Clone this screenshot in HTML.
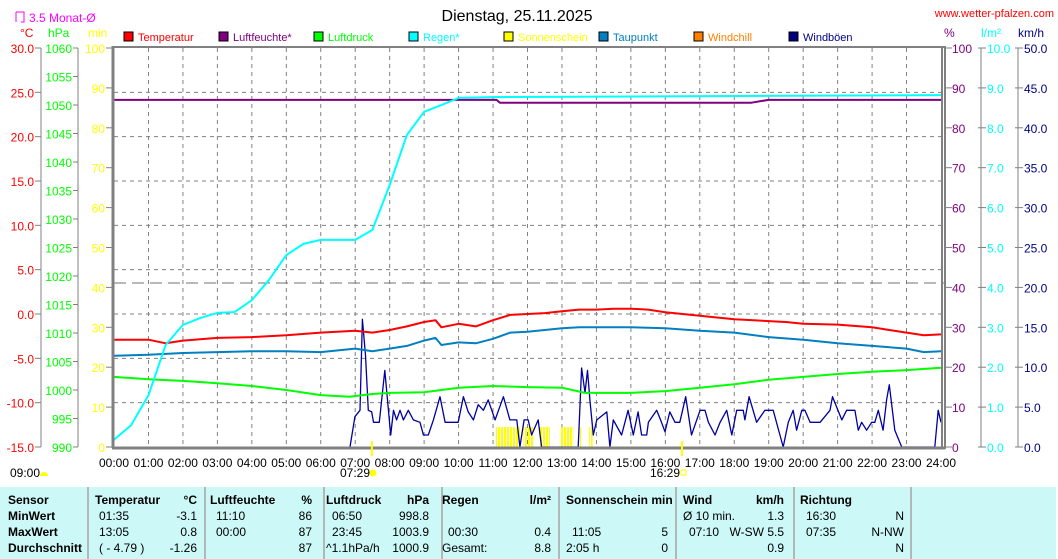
<!DOCTYPE html>
<html><head><meta charset="utf-8">
<style>
body{margin:0;width:1058px;height:559px;overflow:hidden;background:#fff;font-family:"Liberation Sans",sans-serif;}
#wrap{position:relative;width:1058px;height:559px;}
svg{position:absolute;left:0;top:0;}
svg text{font-family:"Liberation Sans",sans-serif;font-size:12px;}
#tbl{position:absolute;left:0;top:487px;width:1056px;height:72px;background:#ccf8f8;font-size:12px;color:#000;}
#tbl span{position:absolute;white-space:nowrap;}
#tbl .b{font-weight:bold;}
#tbl .sep{position:absolute;top:0;width:2px;height:72px;background:#b0b8b8;}
</style></head><body>
<div id="wrap">
<svg id="chart" width="1058" height="487"></svg>
<div id="tbl">
<div class="sep" style="left:87px"></div><div class="sep" style="left:204px"></div><div class="sep" style="left:323px"></div><div class="sep" style="left:441px"></div><div class="sep" style="left:558px"></div><div class="sep" style="left:675px"></div><div class="sep" style="left:793px"></div><div class="sep" style="left:910px"></div>
<span class="b" style="left:8px;top:6px">Sensor</span>
<span class="b" style="left:8px;top:22px">MinWert</span>
<span class="b" style="left:8px;top:38px">MaxWert</span>
<span class="b" style="left:8px;top:54px">Durchschnitt</span>
<span class="b" style="left:95px;top:6px">Temperatur</span><span class="b" style="right:859px;top:6px">°C</span>
<span style="left:99px;top:22px">01:35</span><span style="right:859px;top:22px">-3.1</span>
<span style="left:99px;top:38px">13:05</span><span style="right:859px;top:38px">0.8</span>
<span style="left:99px;top:54px">( - 4.79 )</span><span style="right:859px;top:54px">-1.26</span>
<span class="b" style="left:210px;top:6px">Luftfeuchte</span><span class="b" style="right:744px;top:6px">%</span>
<span style="left:216px;top:22px">11:10</span><span style="right:744px;top:22px">86</span>
<span style="left:216px;top:38px">00:00</span><span style="right:744px;top:38px">87</span>
<span style="right:744px;top:54px">87</span>
<span class="b" style="left:326px;top:6px">Luftdruck</span><span class="b" style="right:627px;top:6px">hPa</span>
<span style="left:332px;top:22px">06:50</span><span style="right:627px;top:22px">998.8</span>
<span style="left:332px;top:38px">23:45</span><span style="right:627px;top:38px">1003.9</span>
<span style="left:326px;top:54px">^1.1hPa/h</span><span style="right:627px;top:54px">1000.9</span>
<span class="b" style="left:442px;top:6px">Regen</span><span class="b" style="right:505px;top:6px">l/m²</span>
<span style="left:448px;top:38px">00:30</span><span style="right:505px;top:38px">0.4</span>
<span style="left:442px;top:54px">Gesamt:</span><span style="right:505px;top:54px">8.8</span>
<span class="b" style="left:566px;top:6px">Sonnenschein min</span>
<span style="left:572px;top:38px">11:05</span><span style="right:388px;top:38px">5</span>
<span style="left:566px;top:54px">2:05 h</span><span style="right:388px;top:54px">0</span>
<span class="b" style="left:683px;top:6px">Wind</span><span class="b" style="right:272px;top:6px">km/h</span>
<span style="left:683px;top:22px">Ø 10 min.</span><span style="right:272px;top:22px">1.3</span>
<span style="left:689px;top:38px">07:10</span><span style="right:272px;top:38px">W-SW 5.5</span>
<span style="right:272px;top:54px">0.9</span>
<span class="b" style="left:800px;top:6px">Richtung</span>
<span style="left:806px;top:22px">16:30</span><span style="right:152px;top:22px">N</span>
<span style="left:806px;top:38px">07:35</span><span style="right:152px;top:38px">N-NW</span>
<span style="right:152px;top:54px">N</span>
</div>
</div>
<script>
const tempTimes=[0,1,1.5,2,3,4,5,6,7,7.5,8,8.5,9,9.33,9.5,10,10.5,11,11.5,12,12.5,13,13.5,14,14.5,15,15.5,16,16.5,17,17.5,18,19,19.5,20,21,22,22.5,23,23.5,24];
const tempVals=[-2.9,-2.9,-3.3,-3.0,-2.7,-2.6,-2.4,-2.1,-1.9,-2.1,-1.8,-1.4,-0.9,-0.7,-1.5,-1.1,-1.4,-0.7,-0.1,0.0,0.1,0.3,0.5,0.5,0.6,0.6,0.5,0.2,0.0,-0.2,-0.4,-0.6,-0.8,-0.9,-1.1,-1.2,-1.5,-1.8,-2.1,-2.4,-2.3];
const dewTimes=[0,1,2,3,4,5,6,7,7.5,8,8.5,9,9.33,9.5,10,10.5,11,11.5,12,12.5,13,13.5,14,15,16,17,18,19,20,21,22,23,23.5,24];
const dewVals=[-4.7,-4.6,-4.4,-4.3,-4.2,-4.2,-4.3,-3.9,-4.2,-3.9,-3.6,-3.0,-2.7,-3.5,-3.2,-3.3,-2.8,-2.1,-2.0,-1.8,-1.6,-1.5,-1.5,-1.5,-1.6,-1.9,-2.1,-2.6,-2.9,-3.3,-3.6,-3.9,-4.3,-4.2];
const presTimes=[0,1,2,3,4,5,6,6.83,7.5,8,9,9.5,10,11,12,13,13.67,14,15,16,17,18,19,20,21,22,23,24];
const presVals=[1002.3,1001.9,1001.6,1001.2,1000.7,1000.0,999.1,998.8,999.3,999.5,999.6,1000.0,1000.4,1000.7,1000.5,1000.4,999.5,999.5,999.5,999.8,1000.4,1001.0,1001.8,1002.3,1002.8,1003.2,1003.5,1003.9];
const humTimes=[0,11.1,11.2,18.5,18.7,19,24];
const humVals=[87,87,86.3,86.3,86.6,87,87];
const rainTimes=[0,0.5,1,1.5,2,2.5,3,3.5,4,4.5,5,5.5,6,7,7.5,8,8.5,9,9.5,10,11,24];
const rainVals=[0.18,0.55,1.3,2.56,3.06,3.23,3.36,3.38,3.68,4.19,4.81,5.09,5.19,5.19,5.44,6.57,7.82,8.40,8.57,8.75,8.77,8.82];
const gustTimes=[6.85,6.99,7.14,7.21,7.30,7.38,7.48,7.53,7.70,7.86,8.03,8.11,8.20,8.30,8.40,8.54,8.69,8.88,8.98,9.12,9.27,9.46,9.61,9.99,10.14,10.28,10.43,10.57,10.72,10.86,11.06,11.30,11.49,11.69,11.78,11.90,12.02,12.12,12.31,12.41,13.47,13.57,13.67,13.74,13.81,13.91,14.01,14.30,14.39,14.49,14.73,14.92,15.07,15.21,15.31,15.46,15.51,15.75,15.89,15.99,16.13,16.28,16.42,16.59,16.76,17.01,17.15,17.25,17.44,17.59,17.78,17.93,18.07,18.26,18.31,18.43,18.65,18.89,19.13,19.42,19.57,19.71,19.81,19.96,20.05,20.20,20.49,20.78,20.85,21.12,21.26,21.50,21.60,21.70,21.84,21.99,22.08,22.18,22.32,22.42,22.50,22.66,22.86,23.82,23.92,24.0];
const gustVals=[0,3.8,4.6,16.0,11.5,4.6,4.4,3.1,3.1,9.6,1.5,4.6,3.4,4.6,3.4,4.6,3.4,3.1,1.5,1.5,3.4,6.3,3.1,3.1,6.3,4.4,3.4,5.3,4.6,5.9,3.4,6.3,3.4,3.4,0,3.4,3.4,1.5,3.4,0,0,9.9,6.8,9.6,5.9,1.5,3.4,4.4,0,3.4,1.5,4.6,1.5,4.4,1.5,1.5,3.1,4.6,3.1,1.9,4.4,3.1,3.1,6.3,1.5,4.6,4.6,3.1,1.5,3.1,4.6,1.5,4.6,4.6,3.4,6.3,3.1,4.6,4.6,0,3.1,4.6,2.1,4.6,4.6,3.1,3.1,4.6,6.3,3.4,4.6,4.6,2.1,3.1,2.1,3.1,3.1,4.6,2.1,5.9,7.8,2.1,0,0,4.6,3.1];
const sunStarts=[11.08,11.88,12.36,12.94,13.52,13.79];
const sunEnds=[11.78,12.17,12.65,13.33,13.58,13.89];
const sunVal=5;
const tempTicks=[30,25,20,15,10,5,0,-5,-10,-15];
const presTicks=[1060,1055,1050,1045,1040,1035,1030,1025,1020,1015,1010,1005,1000,995,990];
const minTicks=[100,90,80,70,60,50,40,30,20,10,0];
const pctTicks=[100,90,80,70,60,50,40,30,20,10,0];
const rainTicks=[10,9,8,7,6,5,4,3,2,1,0];
const windTicks=[50,45,40,35,30,25,20,15,10,5,0];
const hours=[0,1,2,3,4,5,6,7,8,9,10,11,12,13,14,15,16,17,18,19,20,21,22,23,24];
const monthAvg=3.5;

const X0=114,X1=941,Y0=48,Y1=447;
const xS=h=>X0+h*(X1-X0)/24;
const tY=t=>Y0+(30-t)*(Y1-Y0)/45;
const pY=p=>Y0+(1060-p)*(Y1-Y0)/70;
const qY=v=>Y0+(100-v)*(Y1-Y0)/100;
const rY=r=>Y0+(10-r)*(Y1-Y0)/10;
const wY=w=>Y0+(50-w)*(Y1-Y0)/50;
const svg=document.getElementById('chart');
const NS='http://www.w3.org/2000/svg';
function mk(tag,at,parent){const e=document.createElementNS(NS,tag);for(const k in at)e.setAttribute(k,at[k]);(parent||svg).appendChild(e);return e;}
function txt(s,x,y,fill,anchor){const e=mk('text',{x:x,y:y,fill:fill,'text-anchor':anchor||'start'});e.textContent=s;return e;}

hours.slice(1,24).forEach(h=>{const l=mk('line',{x1:xS(h),x2:xS(h),y1:Y0,y2:Y1,stroke:'#808080','stroke-dasharray':'4,4'});

});
tempTicks.slice(1,9).forEach(t=>{const l=mk('line',{x1:X0,x2:X1,y1:tY(t),y2:tY(t),stroke:'#808080','stroke-dasharray':'4,4'});

});
const ma=mk('line',{x1:X0,x2:X1+3,y1:tY(monthAvg),y2:tY(monthAvg),stroke:'#707070','stroke-dasharray':'12,6'});



const pat=mk('pattern',{id:'stripe',width:3,height:10,patternUnits:'userSpaceOnUse'},mk('defs',{}));
mk('rect',{x:0,y:0,width:2,height:10,fill:'#ffff00'},pat);
sunStarts.forEach((s,i)=>{const r=mk('rect',{x:xS(s),y:qY(sunVal),width:xS(sunEnds[i])-xS(s),height:Y1-qY(sunVal),fill:'url(#stripe)'});

});

function series(ts,vs,sc,col,name,w){const d=ts.map((t,i)=>(i?'L':'M')+xS(t).toFixed(1)+','+sc(vs[i]).toFixed(1)).join('');
const p=mk('path',{d:d,fill:'none',stroke:col,'stroke-width':w||2,'stroke-linejoin':'round'});

}
series(gustTimes,gustVals,wY,'#0000a0','wind-gust-line',1.3);
series(presTimes,presVals,pY,'#00ff00','pressure-line',2);
series(dewTimes,dewVals,tY,'#0080c0','dewpoint-line',2);
series(tempTimes,tempVals,tY,'#ff0000','temperature-line',2);
series(humTimes,humVals,qY,'#800080','humidity-line',2);
series(rainTimes,rainVals,rY,'#00ffff','rain-line',2);

mk('line',{x1:X0-1,x2:X0-1,y1:Y0-2,y2:Y1+1,stroke:'#808080','stroke-width':3});
mk('line',{x1:X0-2,x2:X1+4,y1:Y0-1,y2:Y0-1,stroke:'#808080','stroke-width':2});
mk('line',{x1:X0-2,x2:X1+4,y1:Y1+1,y2:Y1+1,stroke:'#808080','stroke-width':3});
mk('line',{x1:X1+1,x2:X1+1,y1:Y0-2,y2:Y1+2,stroke:'#808080','stroke-width':2});
mk('line',{x1:X1+4,x2:X1+4,y1:Y0-2,y2:Y1+2,stroke:'#808080','stroke-width':2});

mk('line',{x1:41,x2:41,y1:Y0,y2:Y1,stroke:'#808080'});
mk('line',{x1:78,x2:78,y1:Y0,y2:Y1,stroke:'#808080'});
tempTicks.forEach(t=>{mk('line',{x1:35,x2:41,y1:tY(t),y2:tY(t),stroke:'#808080'});const e=txt(t.toFixed(1),34,tY(t)+5,'#ff0000','end');

});
presTicks.forEach(p=>{mk('line',{x1:73,x2:78,y1:pY(p),y2:pY(p),stroke:'#808080'});const e=txt(String(p),72,pY(p)+5,'#00ff00','end');

});
minTicks.forEach(m=>{mk('line',{x1:106,x2:113,y1:qY(m),y2:qY(m),stroke:'#808080'});const e=txt(String(m),105,qY(m)+5,'#ffff00','end');

});
mk('line',{x1:981,x2:981,y1:Y0,y2:Y1,stroke:'#808080'});
mk('line',{x1:1018,x2:1018,y1:Y0,y2:Y1,stroke:'#808080'});
pctTicks.forEach(v=>{mk('line',{x1:946,x2:952,y1:qY(v),y2:qY(v),stroke:'#808080'});const e=txt(String(v),952,qY(v)+5,'#800080');

});
rainTicks.forEach(v=>{mk('line',{x1:978,x2:986,y1:rY(v),y2:rY(v),stroke:'#808080'});const e=txt(v.toFixed(1),987,rY(v)+5,'#00ffff');

});
windTicks.forEach(v=>{mk('line',{x1:1015,x2:1023,y1:wY(v),y2:wY(v),stroke:'#808080'});const e=txt(v.toFixed(1),1024,wY(v)+5,'#000080');

});
hours.forEach(h=>{const e=txt((h<10?'0':'')+h+':00',xS(h),467,'#000','middle');

});
mk('line',{x1:xS(7.483),x2:xS(7.483),y1:441,y2:456,stroke:'#ffff00','stroke-width':2});
mk('line',{x1:xS(16.483),x2:xS(16.483),y1:441,y2:456,stroke:'#ffff00','stroke-width':2});
txt('07:29',340,477,'#000');mk('circle',{cx:373,cy:473,r:3.5,fill:'#ffff00'});
txt('16:29',650,477,'#000');mk('rect',{x:681,y:470,width:5,height:5,fill:'none',stroke:'#ffff00'});
txt('09:00',10,477,'#000');mk('path',{d:'M40,476 a4,4 0 0 1 8,0 z',fill:'#ffff00'});

const ti=txt('Dienstag, 25.11.2025',517,21,'#000','middle');ti.style.fontSize='16px';


const ws=txt('www.wetter-pfalzen.com',1054,17,'#ff0000','end');ws.style.fontSize='11px';
mk('path',{d:'M16,12 h8 v10 h-3 M16,12 v10',fill:'none',stroke:'#ff00ff'});
txt('3.5 Monat-Ø',29,22,'#ff00ff');
txt('°C',20,37,'#ff0000');txt('hPa',48,37,'#00ff00');txt('min',88,37,'#ffff00');
txt('%',944,37,'#800080');txt('l/m²',981,37,'#00ffff');txt('km/h',1018,37,'#000080');
const legNames=['Temperatur','Luftfeuchte*','Luftdruck','Regen*','Sonnenschein','Taupunkt','Windchill','Windböen'];
const legCols=['#ff0000','#800080','#00ff00','#00ffff','#ffff00','#0080c0','#ff8000','#000080'];
legNames.forEach((n,i)=>{const x=124+i*95;const g=mk('g',{});


mk('rect',{x:x,y:32,width:9,height:9,fill:legCols[i],stroke:'#000'},g);
const t=mk('text',{x:x+14,y:41,fill:legCols[i]},g);t.textContent=n;t.style.fontSize='11px';});
</script>
</body></html>
